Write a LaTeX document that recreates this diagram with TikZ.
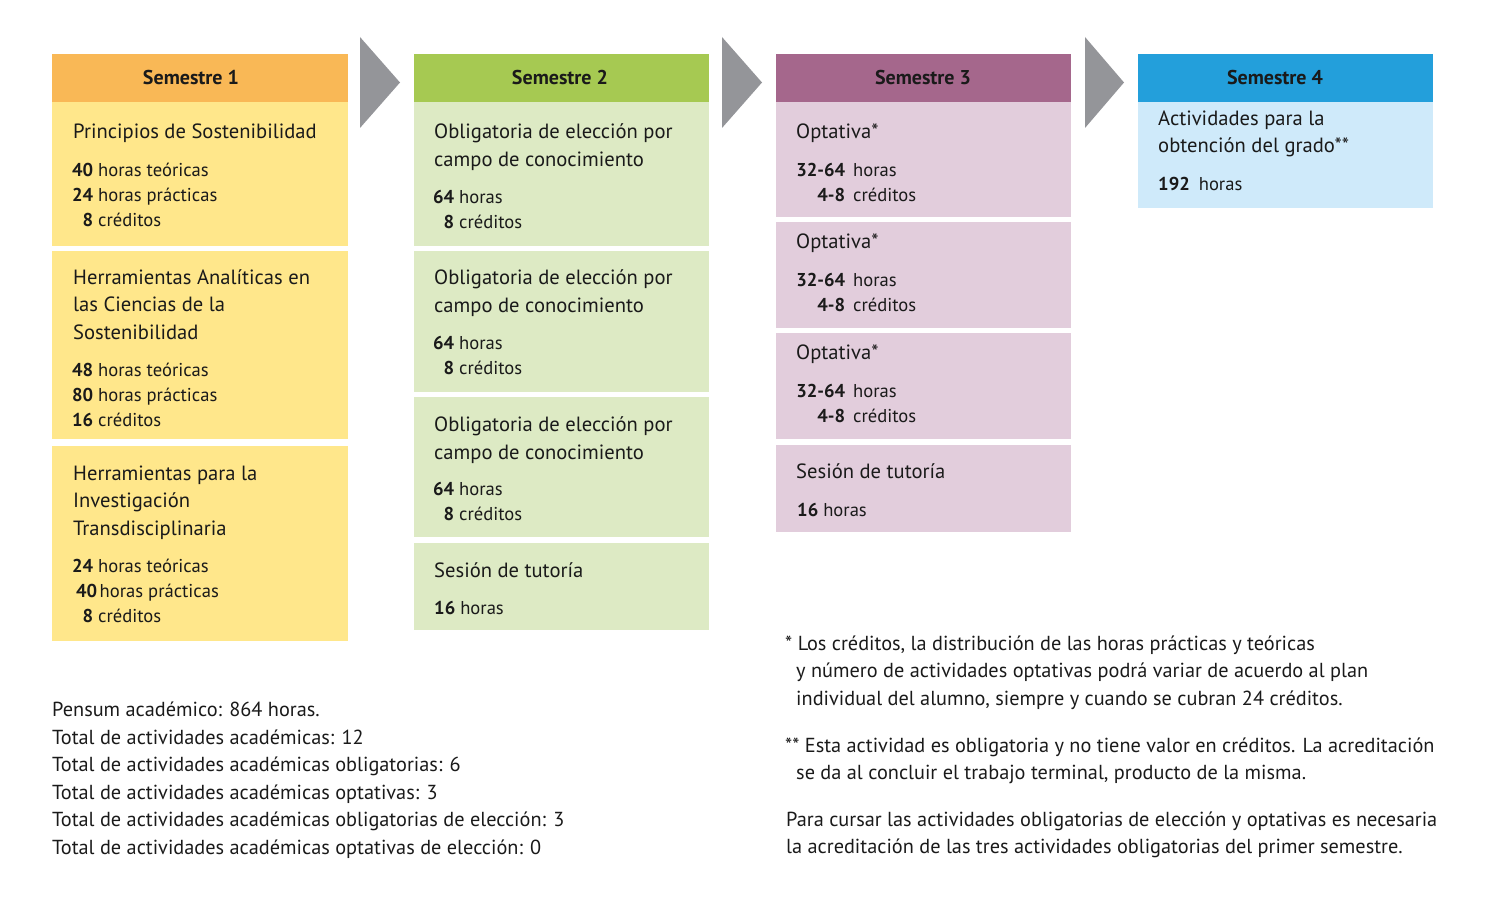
\documentclass[tikz,border=0pt]{standalone}
\usepackage{fontspec}
\setmainfont{PT Sans}
\definecolor{hOne}{HTML}{F9B856}
\definecolor{bOne}{HTML}{FFE78B}
\definecolor{hTwo}{HTML}{A6C952}
\definecolor{bTwo}{HTML}{DDEAC4}
\definecolor{hThree}{HTML}{A5678C}
\definecolor{bThree}{HTML}{E2CDDC}
\definecolor{hFour}{HTML}{239FDB}
\definecolor{bFour}{HTML}{CFEAFA}
\definecolor{arrowgray}{HTML}{949599}
\definecolor{ink}{HTML}{1A1A1A}
\newcommand\nm[3]{\makebox[#1][r]{\bfseries #2}\hspace{5pt}#3}
\newcommand\nmw[3]{\makebox[#1][r]{\bfseries #2}\hspace{8pt}#3}
\begin{document}
\begin{tikzpicture}[x=1pt,y=-1pt,
  box/.style={draw=none,inner sep=0,outer sep=0,anchor=north west},
  hdr/.style={box,minimum height=48pt},
  hdrtxt/.style={font=\fontsize{20}{22}\selectfont\bfseries,text=ink,inner sep=0,anchor=base},
  ttl/.style={font=\fontsize{20.6}{24}\selectfont,text=ink,inner sep=0,anchor=base west},
  num/.style={font=\fontsize{18.6}{22}\selectfont,text=ink,inner sep=0,anchor=base west},
  note/.style={font=\fontsize{20.3}{24}\selectfont,text=ink,inner sep=0,anchor=base west},
  tri/.style={fill=arrowgray,draw=none}]
\useasboundingbox (0,0) rectangle (1486,915);
% ---------- Semester 1
\node[hdr,fill=hOne,minimum width=296pt] (h1) at (52,54) {};
\node[hdrtxt] (h1t) at (191,84.5) {Semestre 1};
\node[box,fill=bOne,minimum width=296pt,minimum height=144pt] (a1) at (52,102) {};
\node[box,fill=bOne,minimum width=296pt,minimum height=188pt] (a2) at (52,251) {};
\node[box,fill=bOne,minimum width=296pt,minimum height=195pt] (a3) at (52,446) {};
\node[ttl] (a1t1) at (73,139) {Principios de Sostenibilidad};
\node[num] (a1n1) at (73,176.5) {\nm{20pt}{40}{horas teóricas}};
\node[num] (a1n2) at (73,201.5) {\nm{20pt}{24}{horas prácticas}};
\node[num] (a1n3) at (73,226.5) {\nm{20pt}{8}{créditos}};
\node[ttl] (a2t1) at (73,284) {Herramientas Analíticas en};
\node[ttl] (a2t2) at (73,311.5) {las Ciencias de la};
\node[ttl] (a2t3) at (73,339) {Sostenibilidad};
\node[num] (a2n1) at (73,376.5) {\nm{20pt}{48}{horas teóricas}};
\node[num] (a2n2) at (73,401.5) {\nm{20pt}{80}{horas prácticas}};
\node[num] (a2n3) at (73,426.5) {\nm{20pt}{16}{créditos}};
\node[ttl] (a3t1) at (73,480) {Herramientas para la};
\node[ttl] (a3t2) at (73,507.5) {Investigación};
\node[ttl] (a3t3) at (73,535) {Transdisciplinaria};
\node[num] (a3n1) at (73,572.5) {\nm{20pt}{24}{horas teóricas}};
\node[num] (a3n2) at (77,597.5) {\makebox[20pt][r]{\bfseries 40}\hspace{2.5pt}horas prácticas};
\node[num] (a3n3) at (73,622.5) {\nm{20pt}{\hspace{0pt}8}{créditos}};
% ---------- Semester 2
\node[hdr,fill=hTwo,minimum width=295pt] (h2) at (414,54) {};
\node[hdrtxt] (h2t) at (560,84.5) {Semestre 2};
\node[box,fill=bTwo,minimum width=295pt,minimum height=144pt] (b1) at (414,102) {};
\node[box,fill=bTwo,minimum width=295pt,minimum height=141pt] (b2) at (414,251) {};
\node[box,fill=bTwo,minimum width=295pt,minimum height=140pt] (b3) at (414,397) {};
\node[box,fill=bTwo,minimum width=295pt,minimum height=87pt] (b4) at (414,543) {};
\node[ttl] (b1t1) at (434,139) {Obligatoria de elección por};
\node[ttl] (b1t2) at (434,166.5) {campo de conocimiento};
\node[num] (b1n1) at (434,203.5) {\nm{20pt}{64}{horas}};
\node[num] (b1n2) at (434,228.5) {\nm{20pt}{8}{créditos}};
\node[ttl] (b2t1) at (434,284.5) {Obligatoria de elección por};
\node[ttl] (b2t2) at (434,312) {campo de conocimiento};
\node[num] (b2n1) at (434,349) {\nm{20pt}{64}{horas}};
\node[num] (b2n2) at (434,374) {\nm{20pt}{8}{créditos}};
\node[ttl] (b3t1) at (434,431.5) {Obligatoria de elección por};
\node[ttl] (b3t2) at (434,459) {campo de conocimiento};
\node[num] (b3n1) at (434,495.5) {\nm{20pt}{64}{horas}};
\node[num] (b3n2) at (434,520.5) {\nm{20pt}{8}{créditos}};
\node[ttl] (b4t1) at (434,577.5) {Sesión de tutoría};
\node[num] (b4n1) at (434,614) {\bfseries 16\mdseries\hspace{5pt}horas};
% ---------- Semester 3
\node[hdr,fill=hThree,minimum width=295pt] (h3) at (776,54) {};
\node[hdrtxt] (h3t) at (923,84.5) {Semestre 3};
\node[box,fill=bThree,minimum width=295pt,minimum height=115pt] (c1) at (776,102) {};
\node[box,fill=bThree,minimum width=295pt,minimum height=106pt] (c2) at (776,222) {};
\node[box,fill=bThree,minimum width=295pt,minimum height=106pt] (c3) at (776,333) {};
\node[box,fill=bThree,minimum width=295pt,minimum height=87pt] (c4) at (776,445) {};
\node[ttl] (c1t1) at (796,138.5) {Optativa*};
\node[num] (c1n1) at (798,176.5) {\nmw{47pt}{32-64}{horas}};
\node[num] (c1n2) at (798,201.5) {\nmw{47pt}{4-8}{créditos}};
\node[ttl] (c2t1) at (796,248.5) {Optativa*};
\node[num] (c2n1) at (798,286.5) {\nmw{47pt}{32-64}{horas}};
\node[num] (c2n2) at (798,311) {\nmw{47pt}{4-8}{créditos}};
\node[ttl] (c3t1) at (796,359.5) {Optativa*};
\node[num] (c3n1) at (798,397.5) {\nmw{47pt}{32-64}{horas}};
\node[num] (c3n2) at (798,422.5) {\nmw{47pt}{4-8}{créditos}};
\node[ttl] (c4t1) at (796,478.5) {Sesión de tutoría};
\node[num] (c4n1) at (797,516) {\bfseries 16\mdseries\hspace{5pt}horas};
% ---------- Semester 4
\node[hdr,fill=hFour,minimum width=295pt] (h4) at (1138,54) {};
\node[hdrtxt] (h4t) at (1275,84.5) {Semestre 4};
\node[box,fill=bFour,minimum width=295pt,minimum height=106pt] (d1) at (1138,102) {};
\node[ttl] (d1t1) at (1158,125.5) {Actividades para la};
\node[ttl] (d1t2) at (1158,152.5) {obtención del grado**};
\node[num] (d1n1) at (1158,190) {\bfseries 192\mdseries\hspace{9pt}horas};
% ---------- arrows between semesters
\coordinate (p1a) at (360,37); \coordinate (p1b) at (400,82.5); \coordinate (p1c) at (360,128);
\coordinate (p2a) at (722,37); \coordinate (p2b) at (762,82.5); \coordinate (p2c) at (722,128);
\coordinate (p3a) at (1085,37); \coordinate (p3b) at (1124,82.5); \coordinate (p3c) at (1085,128);
\fill[tri] (p1a) -- (p1b) -- (p1c) -- cycle;
\fill[tri] (p2a) -- (p2b) -- (p2c) -- cycle;
\fill[tri] (p3a) -- (p3b) -- (p3c) -- cycle;
% ---------- totals
\node[note] (s1) at (52,716.5) {Pensum académico: 864 horas.};
\node[note] (s2) at (52,744) {Total de actividades académicas: 12};
\node[note] (s3) at (52,771.5) {Total de actividades académicas obligatorias: 6};
\node[note] (s4) at (52,799) {Total de actividades académicas optativas: 3};
\node[note] (s5) at (52,826.5) {Total de actividades académicas obligatorias de elección: 3};
\node[note] (s6) at (52,854) {Total de actividades académicas optativas de elección: 0};
% ---------- footnotes
\node[note] (f1) at (785,650) {* Los créditos, la distribución de las horas prácticas y teóricas};
\node[note] (f2) at (796,677.5) {y número de actividades optativas podrá variar de acuerdo al plan};
\node[note] (f3) at (796,705) {individual del alumno, siempre y cuando se cubran 24 créditos.};
\node[note] (f4) at (785,752) {** Esta actividad es obligatoria y no tiene valor en créditos. La acreditación};
\node[note] (f5) at (796,779.5) {se da al concluir el trabajo terminal, producto de la misma.};
\node[note] (f6) at (786,826) {Para cursar las actividades obligatorias de elección y optativas es necesaria};
\node[note] (f7) at (786,853.5) {la acreditación de las tres actividades obligatorias del primer semestre.};
\end{tikzpicture}
\end{document}
